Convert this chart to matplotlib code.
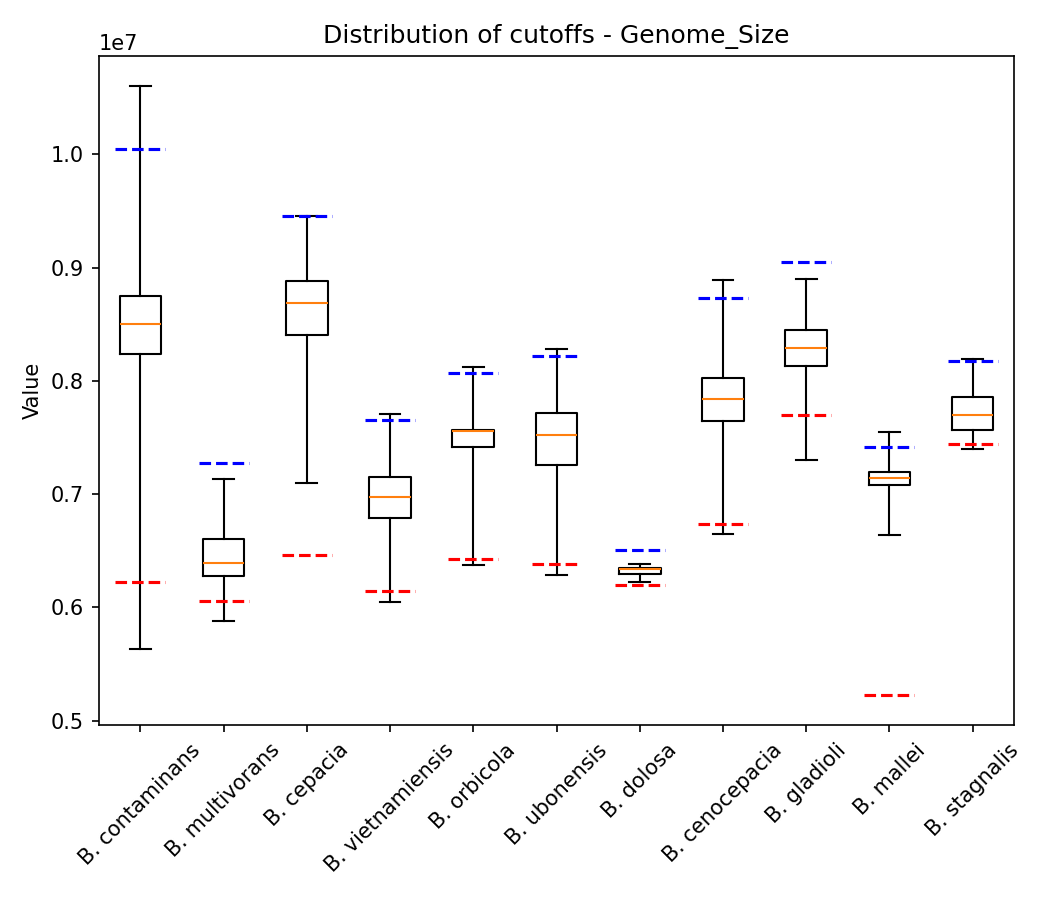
import matplotlib
matplotlib.use("Agg")
import matplotlib.pyplot as plt

species = ["B. contaminans", "B. multivorans", "B. cepacia", "B. vietnamiensis",
           "B. orbicola", "B. ubonensis", "B. dolosa", "B. cenocepacia",
           "B. gladioli", "B. mallei", "B. stagnalis"]

whis_lo = [5.628e6, 5.880e6, 7.095e6, 6.050e6, 6.373e6, 6.285e6, 6.224e6, 6.649e6, 7.300e6, 6.640e6, 7.397e6]
q1      = [8.234e6, 6.276e6, 8.401e6, 6.787e6, 7.415e6, 7.254e6, 6.294e6, 7.641e6, 8.128e6, 7.083e6, 7.562e6]
median  = [8.504e6, 6.391e6, 8.688e6, 6.972e6, 7.553e6, 7.518e6, 6.341e6, 7.843e6, 8.292e6, 7.142e6, 7.696e6]
q3      = [8.753e6, 6.602e6, 8.885e6, 7.148e6, 7.570e6, 7.714e6, 6.350e6, 8.022e6, 8.445e6, 7.195e6, 7.855e6]
whis_hi = [10.601e6, 7.133e6, 9.457e6, 7.705e6, 8.119e6, 8.277e6, 6.385e6, 8.891e6, 8.900e6, 7.547e6, 8.189e6]

lower_cutoff = [6.221e6, 6.054e6, 6.459e6, 6.142e6, 6.423e6, 6.379e6, 6.195e6, 6.740e6, 7.700e6, 5.226e6, 7.445e6]
upper_cutoff = [10.05e6, 7.277e6, 9.452e6, 7.655e6, 8.069e6, 8.222e6, 6.503e6, 8.730e6, 9.047e6, 7.418e6, 8.175e6]

fig, ax = plt.subplots(figsize=(7, 6), dpi=150)

stats = []
for i in range(len(species)):
    stats.append(dict(med=median[i], q1=q1[i], q3=q3[i],
                      whislo=whis_lo[i], whishi=whis_hi[i], fliers=[]))
positions = list(range(1, len(species) + 1))
ax.bxp(stats, positions=positions, showfliers=False)

for i, p in enumerate(positions):
    ax.plot([p - 0.3, p + 0.3], [lower_cutoff[i]] * 2, color='red', linestyle='--', linewidth=1.5)
    ax.plot([p - 0.3, p + 0.3], [upper_cutoff[i]] * 2, color='blue', linestyle='--', linewidth=1.5)

ax.set_xticks(positions)
ax.set_xticklabels(species, rotation=45)
ax.set_xlim(0.5, len(species) + 0.5)
ax.set_ylabel("Value")
ax.set_title("Distribution of cutoffs - Genome_Size")

fig.subplots_adjust(left=0.094, right=0.966, top=0.938, bottom=0.194)
fig.savefig("out.png", dpi=150)
